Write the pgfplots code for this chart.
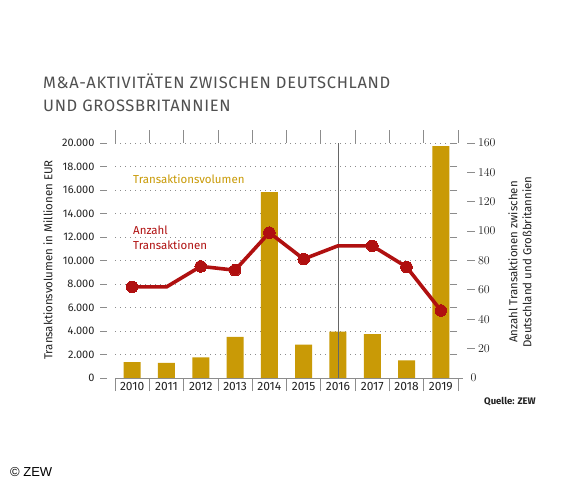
\documentclass[border=0pt]{standalone}
\usepackage{pgfplots}
\pgfplotsset{compat=1.18}
\usepackage{fontspec}
\setmainfont{Fira Sans}
\newfontfamily\titlefont[LetterSpace=4]{Fira Sans}
\newfontfamily\copyfont{Liberation Sans}
\definecolor{gold}{HTML}{C99A06}
\definecolor{zred}{HTML}{B01010}
\definecolor{txt}{HTML}{222222}
\definecolor{ttl}{HTML}{505050}
\definecolor{axgray}{HTML}{8C8C8C}
\begin{document}
\begin{tikzpicture}
\path[fill=white,use as bounding box] (0,0) rectangle (570bp,-480bp);
\node[anchor=base west, inner sep=0, text=ttl, font=\titlefont\fontsize{16.5bp}{20bp}\selectfont] at (43bp,-88bp) {M\&A-AKTIVITÄTEN ZWISCHEN DEUTSCHLAND};
\node[anchor=base west, inner sep=0, text=ttl, font=\titlefont\fontsize{16.5bp}{20bp}\selectfont] at (43bp,-111bp) {UND GROSSBRITANNIEN};
\begin{axis}[
  at={(115bp,-378bp)}, anchor=south west, scale only axis,
  width=343bp, height=235bp,
  xmin=-0.5, xmax=9.5, ymin=0, ymax=20000,
  scaled y ticks=false,
  axis line style={draw=none},
  tick align=outside, major tick length=7bp,
  ytick={0,2000,...,20000},
  yticklabels={0,2.000,4.000,6.000,8.000,10.000,12.000,14.000,16.000,18.000,20.000},
  ytick style={draw=axgray, line width=0.8bp, xshift=-8bp},
  ymajorgrids, grid style={axgray, line width=0.9bp, dash pattern=on 1bp off 4bp},
  xtick={0,1,...,9},
  xticklabels={2010,2011,2012,2013,2014,2015,2016,2017,2018,2019},
  xtick style={draw=none},
  extra x ticks={-0.5,0.5,...,9.5}, extra x tick labels={},
  extra x tick style={major tick length=13bp, grid=none, xtick style={draw=axgray, line width=0.8bp}},
  xticklabel style={font=\fontsize{12bp}{14bp}\selectfont, text=txt, yshift=6bp},
  yticklabel style={font=\fontsize{11bp}{14bp}\selectfont, text=txt, xshift=-10bp},
  clip=false,
]
\addplot[ybar, bar width=17bp, fill=gold, draw=none] coordinates {
(0,1350) (1,1290) (2,1760) (3,3500) (4,15820) (5,2850) (6,3950) (7,3730) (8,1500) (9,19740)};
\draw[axgray, line width=0.8bp] (rel axis cs:0,0) -- ([xshift=5bp]rel axis cs:1,0);
\draw[gray!80!black, line width=0.8bp] (axis cs:6,0) -- (axis cs:6,20000);
\end{axis}
\begin{axis}[
  at={(115bp,-378bp)}, anchor=south west, scale only axis,
  width=352bp, height=235bp,
  xmin=-0.5, xmax=9.7624, ymin=0, ymax=160,
  hide x axis,
  axis line style={draw=none},
  ytick={20,40,...,160},
  extra y ticks={0}, extra y tick style={major tick length=0pt},
  ytick pos=right, yticklabel pos=right,
  tick align=outside, major tick length=7.5bp,
  ytick style={draw=axgray, line width=0.8bp},
  yticklabel style={font=\fontsize{11.5bp}{14bp}\selectfont, text=txt},
  clip=false,
]
\addplot[zred, line width=3.6bp, mark=*, mark size=5.8bp, mark indices={1,3,4,5,6,8,9,10},
  mark options={fill=zred, draw=zred, line width=0pt}] coordinates {
(0,62) (1,62) (2,76) (3,73.4) (4,99) (5,81) (6,90) (7,90) (8,75.6) (9,46)};
\end{axis}
\node[rotate=90, text=txt, font=\fontsize{11.5bp}{14bp}\selectfont] at (48bp,-260bp) {Transaktionsvolumen in Millionen EUR};
\node[rotate=90, align=center, text=txt, font=\fontsize{11.5bp}{14bp}\selectfont] at (520bp,-262bp) {Anzahl Transaktionen zwischen\\Deutschland und Großbritannien};
\node[anchor=base west, inner sep=0, text=gold, font=\fontsize{11.5bp}{14bp}\selectfont] at (133bp,-183.5bp) {Transaktionsvolumen};
\node[anchor=base west, inner sep=0, text=zred, font=\fontsize{11.5bp}{14bp}\selectfont] at (133bp,-234.3bp) {Anzahl};
\node[anchor=base west, inner sep=0, text=zred, font=\fontsize{11.5bp}{14bp}\selectfont] at (133bp,-249.3bp) {Transaktionen};
\node[anchor=base west, inner sep=0, text=txt, font=\bfseries\fontsize{9.5bp}{11bp}\selectfont] at (484bp,-404.5bp) {Quelle: ZEW};
\node[anchor=base west, inner sep=0, text=black, font=\copyfont\fontsize{13bp}{15bp}\selectfont] at (10bp,-476.5bp) {© ZEW};
\end{tikzpicture}
\end{document}
